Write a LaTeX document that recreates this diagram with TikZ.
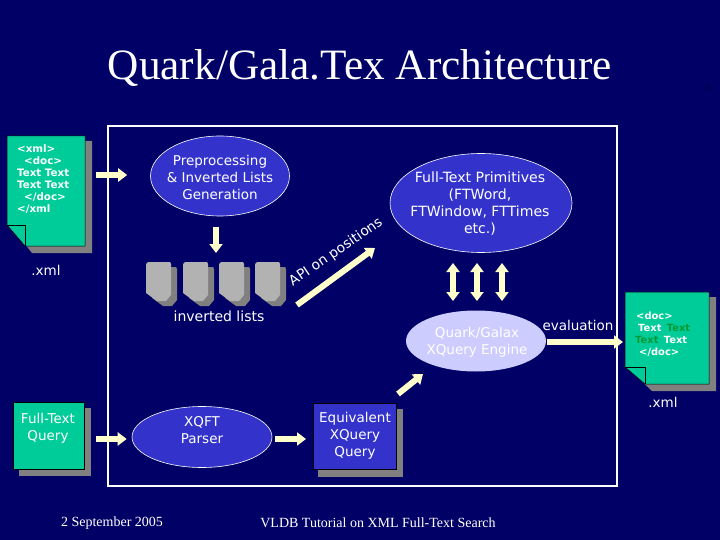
\documentclass[tikz,border=0pt]{standalone}
\usepackage{fontspec}
\setmainfont{Liberation Serif}
\newfontfamily\vsans{DejaVu Sans}
\usetikzlibrary{arrows.meta, shapes.geometric}
\definecolor{slidebg}{HTML}{000066}
\definecolor{oval}{HTML}{3333CC}
\definecolor{paleoval}{HTML}{CCCCFF}
\definecolor{docgreen}{HTML}{00CC99}
\definecolor{textgreen}{HTML}{009933}
\definecolor{shadowgrey}{HTML}{808080}
\definecolor{diskgrey}{HTML}{B2B2B2}
\definecolor{arrowyellow}{HTML}{FFFFCC}
\definecolor{pagenum}{HTML}{00004D}
\tikzset{
  x=1pt, y=-1pt,
  lbl/.style={text=white, font=\vsans\fontsize{13.5}{17}\selectfont, align=center, inner sep=0pt},
  oval/.style={ellipse, draw=white, line width=0.6pt, fill=oval, inner sep=0pt},
  card/.style={rectangle, draw=black, line width=0.5pt, fill=#1, inner sep=0pt},
  doctext/.style={text=white, font=\vsans\bfseries\fontsize{10.3}{12}\selectfont, align=left, inner sep=0pt},
  foot/.style={text=white, font=\fontsize{14}{16}\selectfont, inner sep=0pt},
  blk/.style={draw=arrowyellow, line width=6pt, -{Triangle[length=9pt, width=13pt, fill=arrowyellow]}},
  blkd/.style={draw=arrowyellow, line width=6pt, {Triangle[length=9pt, width=13pt, fill=arrowyellow]}-{Triangle[length=9pt, width=13pt, fill=arrowyellow]}},
  disk/.pic={\fill[pic actions] (2,262) -- (24,262) -- (25,264) -- (25,295) -- (20,301) -- (11,301) -- (0,293) -- (0,264) -- cycle;}
}
\begin{document}
\begin{tikzpicture}
\useasboundingbox (0,0) rectangle (720,540);
\fill[slidebg] (0,0) rectangle (720,540);

% --- Title and footer ---
\node[text=white, font=\fontsize{43.3}{50}\selectfont, inner sep=0pt] (title) at (360,68) {Quark/Gala.Tex Architecture};
\node[text=pagenum, font=\fontsize{14}{16}\selectfont, inner sep=0pt] (pg) at (708,88) {4};
\node[foot] (date) at (112,523) {2 September 2005};
\node[foot] (conf) at (378,523) {VLDB Tutorial on XML Full-Text Search};

% --- Frame ---
\draw[white, line width=1.4pt] (108,126) rectangle (617,486);

% --- Left xml page ---
\fill[shadowgrey] (14,141) -- (92,141) -- (92,253) -- (32,253) -- (14,230) -- cycle;
\draw[black, line width=0.5pt, fill=docgreen] (7,136) -- (85,136) -- (85,246) -- (25,246) -- (7,225) -- cycle;
\draw[black, line width=0.5pt] (7,225) -- (25,225) -- (25,246);
\node[doctext, anchor=north west] (xmltext) at (17,144) {<xml>\\\hspace*{7pt}<doc>\\Text Text\\Text Text\\\hspace*{7pt}</doc>\\</xml};
\coordinate (docin) at (85,175);
\node[lbl] (xmlname) at (46,270) {.xml};

% --- Preprocessing and lists ---
\node[oval, minimum width=139pt, minimum height=80pt] (prep) at (220,176) {};
\node[lbl] (preptext) at (220,177) {Preprocessing\\\& Inverted Lists\\Generation};
\coordinate (listtop) at (216,253);
\foreach \x in {146,183,219,255} {
  \path[fill=shadowgrey] (\x+6,5) pic {disk};
  \path[fill=diskgrey] (\x,0) pic {disk};
}
\node[lbl, font=\vsans\fontsize{14}{17}\selectfont] (lists) at (219,316) {inverted lists};

% --- Primitives and engine ---
\node[oval, minimum width=182pt, minimum height=99pt] (prim) at (481,203) {};
\node[lbl, font=\vsans\fontsize{14.1}{17}\selectfont] (primtext) at (480,204) {Full-Text Primitives\\(FTWord,\\FTWindow, FTTimes\\etc.)};
\node[ellipse, fill=paleoval, minimum width=140pt, minimum height=61pt, inner sep=0pt] (engine) at (476,341) {};
\node[lbl] (enginetext) at (477,342) {Quark/Galax\\XQuery Engine};
\node[lbl] (eval) at (578,325) {evaluation};
\coordinate (apifrom) at (297,305);
\coordinate (apito) at (375,248);
\node[lbl, font=\vsans\fontsize{13.8}{17}\selectfont, rotate=34.5] (api) at (336,252) {API on positions};

% --- Right xml page ---
\fill[shadowgrey] (632,297) -- (716,297) -- (716,391) -- (652,391) -- (632,372) -- cycle;
\draw[black, line width=0.5pt, fill=docgreen] (625,292) -- (709,292) -- (709,384) -- (645,384) -- (625,367) -- cycle;
\draw[black, line width=0.5pt] (625,367) -- (645,367) -- (645,384);
\node[doctext, font=\vsans\bfseries\fontsize{9.9}{12}\selectfont, anchor=north west] (doctext2) at (635,312) {\hspace*{1pt}<doc>\\\hspace*{3pt}Text\hspace{2pt} \textcolor{textgreen}{Text}\\\textcolor{textgreen}{Text}\hspace{2pt} Text\\\hspace*{4pt}</doc>};
\node[lbl] (xmlname2) at (663,402) {.xml};

% --- Bottom row ---
\fill[shadowgrey] (19,408) rectangle (91,476);
\node[card=docgreen, minimum width=71pt, minimum height=67pt, anchor=north west] (ftq) at (13,402) {};
\node[lbl] (ftqtext) at (48,428) {Full-Text\\Query};
\node[oval, minimum width=140pt, minimum height=61pt] (parser) at (202,437) {};
\node[lbl] (parsertext) at (202,430) {XQFT\\Parser};
\fill[shadowgrey] (318,409) rectangle (403,477);
\node[card=oval, minimum width=83pt, minimum height=66pt, anchor=north west] (eq) at (313,403) {};
\node[lbl] (eqtext) at (355,436) {Equivalent\\XQuery\\Query};
\coordinate (engin) at (423,374);
\coordinate (eqout) at (398,394);

% --- Arrows ---
\draw[blk, shorten <=11pt, shorten >=23pt] (docin) -- (prep.west |- docin);
\draw[blk, shorten <=11pt] (prep.south -| listtop) -- (listtop);
\draw[blk] (apifrom) -- (apito);
\foreach \x in {453,477,502} {
  \coordinate (top\x) at (\x,263);
  \coordinate (bot\x) at (\x,301);
  \draw[blkd] (top\x) -- (bot\x);
}
\coordinate (evalout) at (623,342);
\draw[blk, shorten <=1pt] (engine.east |- evalout) -- (evalout);
\draw[blk] (eqout) -- (engin);
\coordinate (qout) at (84,439);
\draw[blk, shorten <=12pt, shorten >=5pt] (qout) -- (parser.west |- qout);
\draw[blk, shorten <=3pt, shorten >=7pt] (parser.east |- qout) -- (eq.west |- qout);
\end{tikzpicture}
\end{document}
